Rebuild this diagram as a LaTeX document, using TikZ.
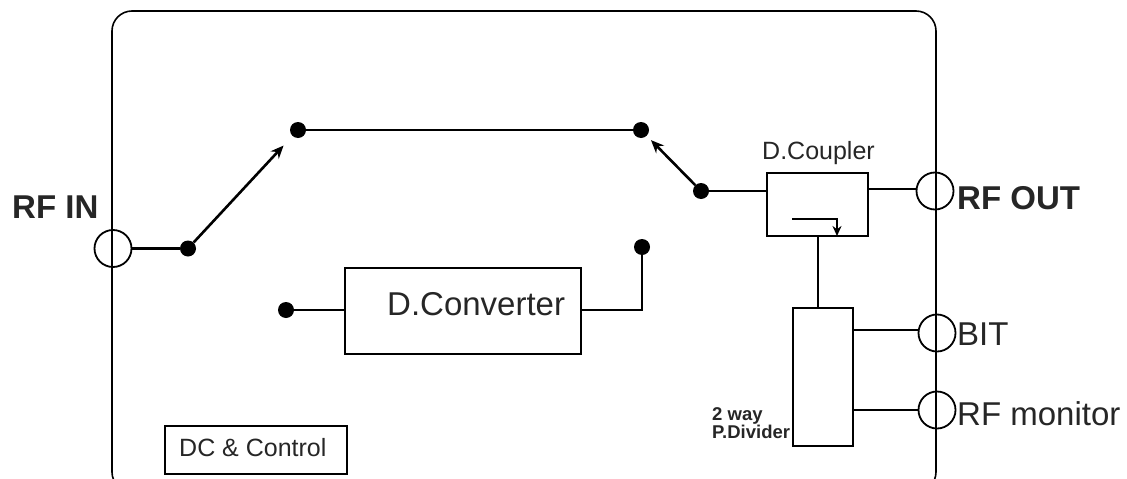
\documentclass[tikz,border=0pt]{standalone}
\usepackage{fontspec}
\setmainfont{Liberation Sans}
\usepackage{tikz}
\usetikzlibrary{arrows.meta}
\newcommand{\bigtext}{\fontsize{33}{36}\selectfont}
\newcommand{\midtext}{\fontsize{25}{28}\selectfont}
\newcommand{\tinytext}{\fontsize{18.5}{19}\selectfont\bfseries}
\tikzset{
	block/.style={draw,line width=2.8pt,inner sep=0pt},
	port/.style={draw,circle,line width=1.8pt,inner sep=0pt,minimum size=37pt},
	contact/.style={circle,fill=black,inner sep=0pt,minimum size=16pt},
	wire/.style={line width=2.6pt},
	label/.style={anchor=base west,inner sep=0pt,text=black!85}
}
\begin{document}
\begin{tikzpicture}[x=1pt,y=-1pt,>={Stealth[length=13pt,width=11pt]}]
	\useasboundingbox (0,0) rectangle (1127,479);
	\clip (0,0) rectangle (1127,479);

	%case, runs off the bottom
	\draw[line width=1.6pt,rounded corners=20pt] (112,11) rectangle (936,492);

	%ports on the case
	\node[port] (rfin) at (113,248.5) {};
	\node[port] (rfout) at (935,191) {};
	\node[port] (bit) at (937,333) {};
	\node[port] (mon) at (937,410) {};

	%switch contacts
	\node[contact] (inpole) at (188,248.5) {};
	\node[contact] (thrua) at (298,130) {};
	\node[contact] (thrub) at (641,130) {};
	\node[contact] (outpole) at (701,191) {};
	\node[contact] (convin) at (286,310) {};
	\node[contact] (convout) at (642,247) {};

	%blocks
	\node[block,minimum width=236pt,minimum height=86pt] (conv) at (463,311) {};
	\node[block,minimum width=101pt,minimum height=63pt] (coup) at (817.5,204.5) {};
	\node[block,minimum width=60pt,minimum height=138pt] (divd) at (823,377) {};
	\node[block,minimum width=182pt,minimum height=48pt] (ctrl) at (256,450) {};

	%labels
	\node[label] (rfinlbl) at (12,218) {\bigtext\bfseries RF IN};
	\node[label] (rfoutlbl) at (957,209) {\bigtext\bfseries RF OUT};
	\node[label] (bitlbl) at (957,345) {\bigtext BIT};
	\node[label] (monlbl) at (957,425) {\bigtext RF monitor};
	\node[label] (convlbl) at (387,315) {\bigtext D.Converter};
	\node[label] (couplbl) at (762,159) {\midtext D.Coupler};
	\node[label] (ctrllbl) at (179,456) {\midtext DC \& Control};
	\node[label] (waylbl) at (712,420) {\tinytext 2 way};
	\node[label] (pdivlbl) at (712,438) {\tinytext P.Divider};

	%connectors
	\draw[wire] (rfin) -- (inpole);
	\draw[wire,->,shorten >=13pt] (inpole) -- (thrua);
	\draw[wire] (thrua) -- (thrub);
	\draw[wire,->,shorten >=6pt] (outpole) -- (thrub);
	\draw[wire] (outpole) -- (outpole -| coup.west);
	\coordinate (coupout) at (coup.east |- 0,189);
	\draw[wire] (coupout) -- (coupout -| rfout.west);
	\draw[wire] (convin) -- (convin -| conv.west);
	\coordinate (convtap) at (conv.east |- convin);
	\draw[wire] (convtap) -| (convout);
	\coordinate (coupdown) at (818,236);
	\draw[wire] (coupdown) -- (coupdown |- divd.north);
	\coordinate (divda) at (divd.east |- 0,330);
	\coordinate (divdb) at (divd.east |- 0,410);
	\draw[wire] (divda) -- (divda -| bit.west);
	\draw[wire] (divdb) -- (divdb -| mon.west);

	%sampling arrow inside the coupler
	\coordinate (samplea) at (792,219);
	\coordinate (sampleb) at (837,219);
	\coordinate (samplec) at (837,236);
	\draw[line width=1.6pt,->,>={Stealth[length=10pt,width=9pt]}] (samplea) -- (sampleb) -- (samplec);
\end{tikzpicture}
\end{document}
